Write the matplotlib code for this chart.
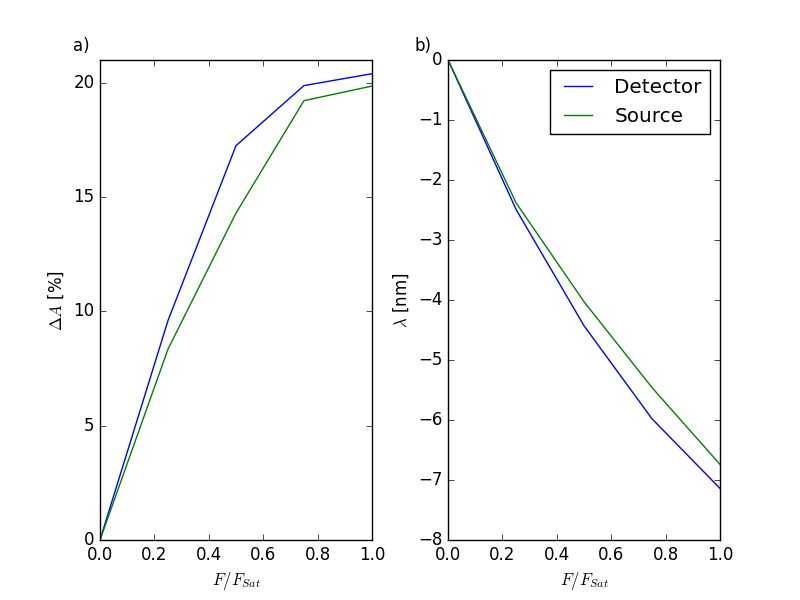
import numpy as np
import matplotlib
matplotlib.use('Agg')
import matplotlib.pyplot as plt

plt.style.use('classic')

# fluence fraction
F = [0.0, 0.25, 0.5, 0.75, 1.0]

# absorption change [%]
dA_detector = [0.0, 9.6, 17.25, 19.88, 20.4]
dA_source = [0.0, 8.35, 14.3, 19.22, 19.86]

# wavelength shift [nm]
lam_detector = [0.0, -2.49, -4.43, -5.98, -7.14]
lam_source = [0.0, -2.38, -4.03, -5.46, -6.74]

fig = plt.figure(figsize=(8, 6), dpi=100)
fig.patch.set_facecolor('white')
fig.subplots_adjust(left=0.125, right=0.9, bottom=0.1, top=0.9, wspace=0.28)

ax1 = fig.add_subplot(121)
ax1.plot(F, dA_detector, label='Detector')
ax1.plot(F, dA_source, label='Source')
ax1.set_xlim(0, 1)
ax1.set_ylim(0, 21)
ax1.set_yticks([0, 5, 10, 15, 20])
ax1.set_xlabel(r'$F/F_{Sat}$')
ax1.set_ylabel(r'$\Delta A$ [%]')
ax1.text(-0.07, 1.03, 'a)', transform=ax1.transAxes, ha='center', va='center')

ax2 = fig.add_subplot(122)
ax2.plot(F, lam_detector, label='Detector')
ax2.plot(F, lam_source, label='Source')
ax2.set_xlim(0, 1)
ax2.set_ylim(-8, 0)
ax2.set_xlabel(r'$F/F_{Sat}$')
ax2.set_ylabel(r'$\lambda$ [nm]')
ax2.text(-0.092, 1.03, 'b)', transform=ax2.transAxes, ha='center', va='center')
ax2.legend(loc='upper right')

fig.savefig('out.png', dpi=100, facecolor='white')
